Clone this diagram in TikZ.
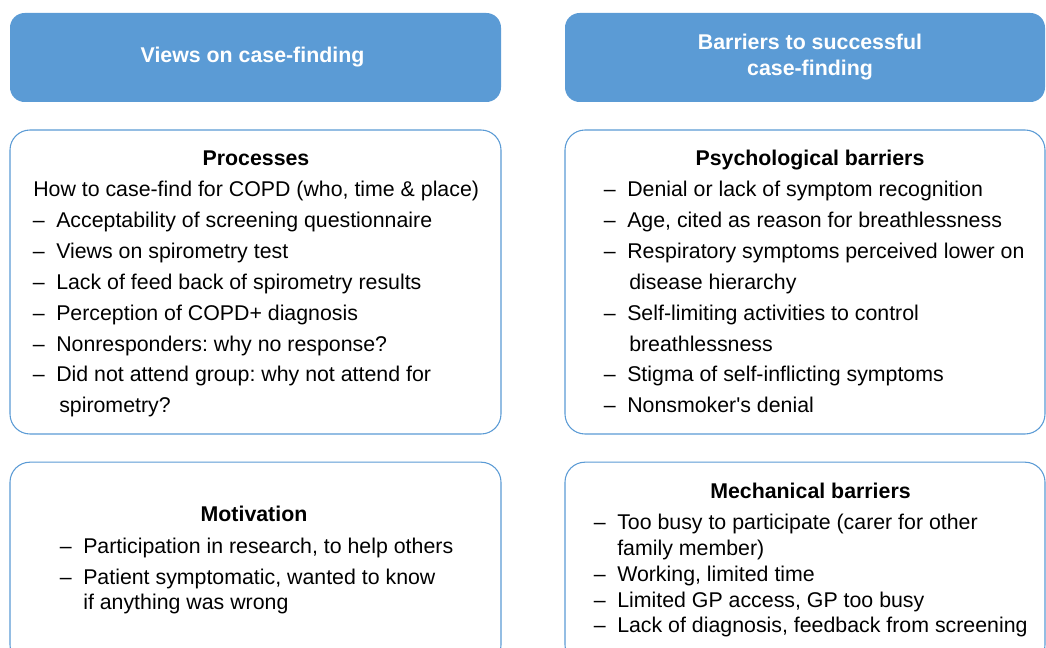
\documentclass[tikz,border=0pt]{standalone}
\usepackage{fontspec}
\setmainfont{Liberation Sans}
\definecolor{headblue}{RGB}{91,155,213}
\newcommand{\dashmark}{\llap{\makebox[17.5pt][l]{–}}}
\tikzset{
    headbox/.style={fill=headblue,rounded corners=11pt,text=white,
        font=\bfseries\fontsize{16}{19.5}\selectfont,align=center,inner sep=0pt,
        minimum height=66.75pt},
    bodybox/.style={draw=headblue,line width=0.8pt,fill=white,rounded corners=15pt,inner sep=0pt},
    boxtitle/.style={font=\bfseries\fontsize{16}{19.5}\selectfont,anchor=base,inner sep=0pt},
    itemline/.style={font=\fontsize{16}{19.5}\selectfont,anchor=base west,inner sep=0pt}
}
\frenchspacing
\begin{document}
\begin{tikzpicture}[x=0.75pt,y=-0.75pt]
        \useasboundingbox (0,0) rectangle (1046,648);
        \clip (0,0) rectangle (1046,648);
        %% headers
        \node[headbox,minimum width=368.25pt] (headL) at (255.5,57.5) {};
        \node[headbox,minimum width=360pt] (headR) at (805,57.5) {};
        \node[text=white,font=\bfseries\fontsize{16}{19.5}\selectfont] (headLtxt) at (252.5,57.5) {Views on case-finding};
        \node[text=white,font=\bfseries\fontsize{16}{19.5}\selectfont,align=center] (headRtxt) at (810,57.5) {Barriers to successful\\case-finding};
        %% boxes
        \node[bodybox,minimum width=368.25pt,minimum height=228pt] (proc) at (255.5,282) {};
        \node[bodybox,minimum width=360pt,minimum height=228pt] (psych) at (805,282) {};
        \node[bodybox,minimum width=368.25pt,minimum height=152pt] (motiv) at (255.5,563.5) {};
        \node[bodybox,minimum width=360pt,minimum height=152pt] (mech) at (805,563.5) {};
        %% Processes
        \node[boxtitle] (procT) at (256,166) {Processes};
        \node[itemline] (p1) at (33,196.5) {How to case-find for COPD (who, time \& place)};
        \node[itemline] (p2) at (56,227.5) {\dashmark Acceptability of screening questionnaire};
        \node[itemline] (p3) at (56,258.5) {\dashmark Views on spirometry test};
        \node[itemline] (p4) at (56,289.5) {\dashmark Lack of feed back of spirometry results};
        \node[itemline] (p5) at (56,320.5) {\dashmark Perception of COPD+ diagnosis};
        \node[itemline] (p6) at (56,351.5) {\dashmark Nonresponders: why no response?};
        \node[itemline] (p7) at (56,381.5) {\dashmark Did not attend group: why not attend for};
        \node[itemline] (p8) at (59,412.5) {spirometry?};
        %% Psychological barriers
        \node[boxtitle] (psyT) at (810,166) {Psychological barriers};
        \node[itemline] (s1) at (627,196.5) {\dashmark Denial or lack of symptom recognition};
        \node[itemline] (s2) at (627,227.5) {\dashmark Age, cited as reason for breathlessness};
        \node[itemline] (s3) at (627,258.5) {\dashmark Respiratory symptoms perceived lower on};
        \node[itemline] (s4) at (629,289.5) {disease hierarchy};
        \node[itemline] (s5) at (627,320.5) {\dashmark Self-limiting activities to control};
        \node[itemline] (s6) at (629,351.5) {breathlessness};
        \node[itemline] (s7) at (627,381.5) {\dashmark Stigma of self-inflicting symptoms};
        \node[itemline] (s8) at (627,412.5) {\dashmark Nonsmoker\textquotesingle s denial};
        %% Motivation
        \node[boxtitle] (motT) at (254,521.5) {Motivation};
        \node[itemline] (m1) at (83,553.5) {\dashmark Participation in research, to help others};
        \node[itemline] (m2) at (83,584.5) {\dashmark Patient symptomatic, wanted to know};
        \node[itemline] (m3) at (83,609.5) {if anything was wrong};
        %% Mechanical barriers
        \node[boxtitle] (mecT) at (810.5,498.5) {Mechanical barriers};
        \node[itemline] (c1) at (617,529.5) {\dashmark Too busy to participate (carer for other};
        \node[itemline] (c2) at (617,555.5) {family member)};
        \node[itemline] (c3) at (617,581.5) {\dashmark Working, limited time};
        \node[itemline] (c4) at (617,607.5) {\dashmark Limited GP access, GP too busy};
        \node[itemline] (c5) at (617,632.5) {\dashmark Lack of diagnosis, feedback from screening};
    \end{tikzpicture}
\end{document}
